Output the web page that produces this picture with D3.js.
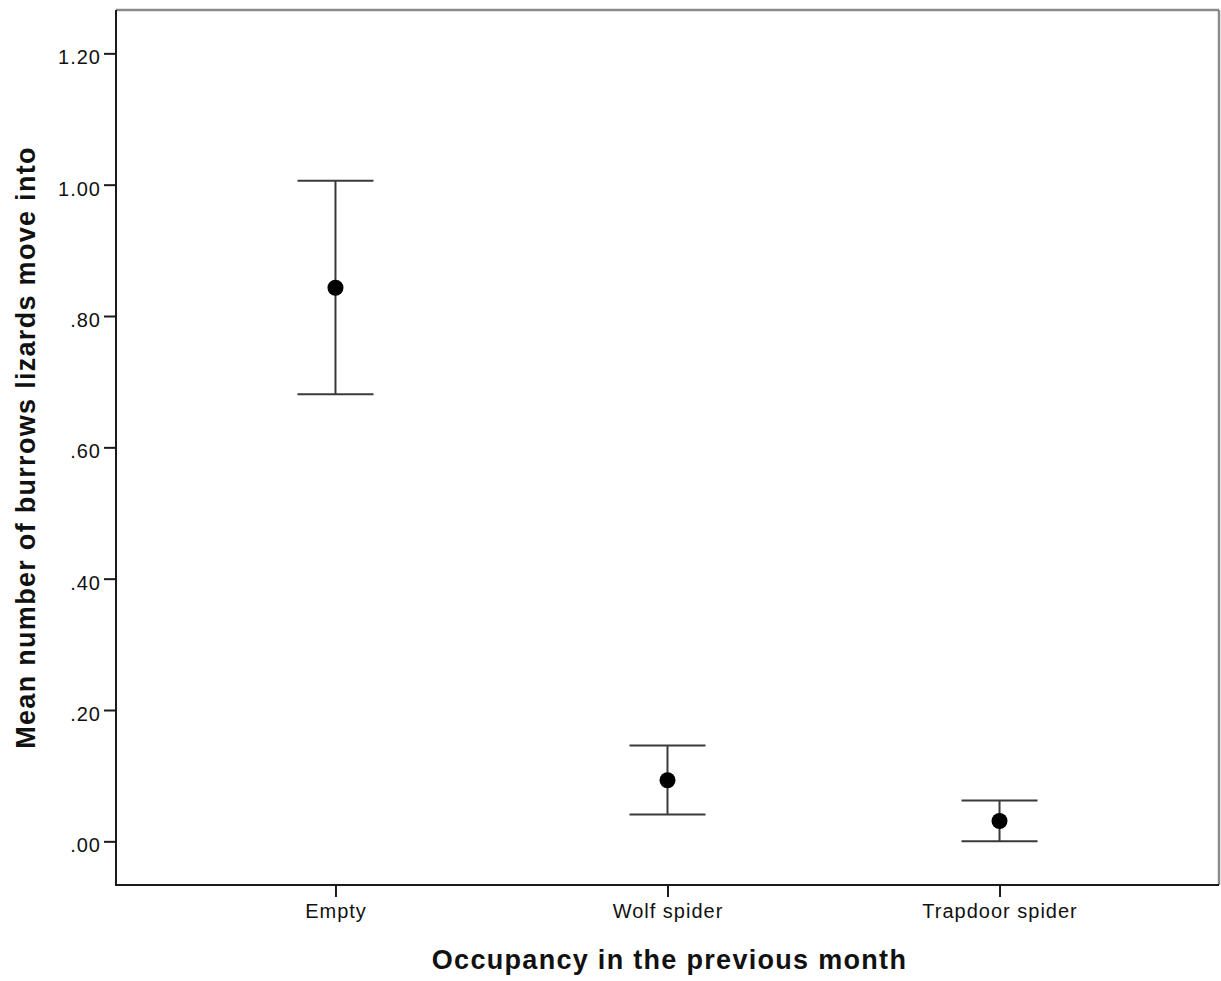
<!DOCTYPE html>
<html>
<head>
<meta charset="utf-8">
<script src="https://cdn.jsdelivr.net/npm/d3@7"></script>
<style>
  html, body { margin: 0; padding: 0; background: #fff; }
  svg { display: block; }
  text { font-family: "Liberation Sans", Arial, sans-serif; fill: #111; }
</style>
</head>
<body>
<svg id="chart" width="1221" height="981"></svg>
<script>
// Group means with 95% confidence limits
const categories = ["Empty", "Wolf spider", "Trapdoor spider"];
const means = [0.843, 0.093, 0.031];
const lowerCI = [0.681, 0.041, 0.000];
const upperCI = [1.006, 0.146, 0.062];
const yTickValues = [0, 0.2, 0.4, 0.6, 0.8, 1.0, 1.2];
const yTickLabels = [".00", ".20", ".40", ".60", ".80", "1.00", "1.20"];

const svg = d3.select("#chart");
const plot = { left: 116, right: 1219, top: 10, bottom: 885 };

const x = d3.scalePoint()
  .domain(categories)
  .range([plot.left, plot.right])
  .padding(0.661);

const y = d3.scaleLinear()
  .domain([-0.0665, 1.266])
  .range([plot.bottom, plot.top]);

// Frame: top and right edges are lighter
svg.append("line")
  .attr("x1", plot.left).attr("x2", plot.right)
  .attr("y1", plot.top).attr("y2", plot.top)
  .attr("stroke", "#8a8a8a").attr("stroke-width", 2.5);
svg.append("line")
  .attr("x1", plot.right).attr("x2", plot.right)
  .attr("y1", plot.top).attr("y2", plot.bottom)
  .attr("stroke", "#8a8a8a").attr("stroke-width", 2.5);

const tickFont = sel => sel
  .style("font-size", "20px")
  .style("letter-spacing", "1px")
  .style("font-family", "'Liberation Sans', Arial, sans-serif")
  .attr("fill", "#111");

// Y axis
const yAxis = d3.axisLeft(y)
  .tickValues(yTickValues)
  .tickFormat((d, i) => yTickLabels[i])
  .tickSize(12)
  .tickSizeOuter(0)
  .tickPadding(3);
const gy = svg.append("g")
  .attr("transform", `translate(${plot.left},0)`)
  .call(yAxis);
gy.select(".domain").attr("stroke", "#1a1a1a").attr("stroke-width", 2)
  .attr("d", `M0,${plot.top}V${plot.bottom}`);
gy.selectAll(".tick line").attr("stroke", "#1a1a1a").attr("stroke-width", 2);
gy.selectAll(".tick text")
  .attr("dy", "0.72em")
  .attr("y", -4)
  .call(tickFont);

// X axis
const xAxis = d3.axisBottom(x)
  .tickSize(12)
  .tickSizeOuter(0)
  .tickPadding(7);
const gx = svg.append("g")
  .attr("transform", `translate(0,${plot.bottom})`)
  .call(xAxis);
gx.select(".domain").attr("stroke", "#1a1a1a").attr("stroke-width", 2)
  .attr("d", `M${plot.left - 1},0H${plot.right}`);
gx.selectAll(".tick line").attr("stroke", "#1a1a1a").attr("stroke-width", 2);
gx.selectAll(".tick text").call(tickFont);

// Error bars
const rows = categories.map((c, i) => ({ c, m: means[i], lo: lowerCI[i], hi: upperCI[i] }));
const capHalf = 38;
const bars = svg.append("g").selectAll("g").data(rows).join("g");
bars.append("line")
  .attr("x1", d => x(d.c)).attr("x2", d => x(d.c))
  .attr("y1", d => y(d.lo)).attr("y2", d => y(d.hi))
  .attr("stroke", "#3a3a3a").attr("stroke-width", 2);
bars.append("line")
  .attr("x1", d => x(d.c) - capHalf).attr("x2", d => x(d.c) + capHalf)
  .attr("y1", d => y(d.hi)).attr("y2", d => y(d.hi))
  .attr("stroke", "#3a3a3a").attr("stroke-width", 2);
bars.append("line")
  .attr("x1", d => x(d.c) - capHalf).attr("x2", d => x(d.c) + capHalf)
  .attr("y1", d => y(d.lo)).attr("y2", d => y(d.lo))
  .attr("stroke", "#3a3a3a").attr("stroke-width", 2);
bars.append("circle")
  .attr("cx", d => x(d.c)).attr("cy", d => y(d.m))
  .attr("r", 8).attr("fill", "#000");

// Axis titles
svg.append("text")
  .attr("x", (plot.left + plot.right) / 2 + 2)
  .attr("y", 969)
  .attr("text-anchor", "middle")
  .style("font-size", "27px")
  .style("font-weight", "bold")
  .style("letter-spacing", "1.3px")
  .text("Occupancy in the previous month");

svg.append("text")
  .attr("transform", `translate(35,${(plot.top + plot.bottom) / 2}) rotate(-90)`)
  .attr("text-anchor", "middle")
  .style("font-size", "27px")
  .style("font-weight", "bold")
  .style("letter-spacing", "1.3px")
  .text("Mean number of burrows lizards move into");
</script>
</body>
</html>
